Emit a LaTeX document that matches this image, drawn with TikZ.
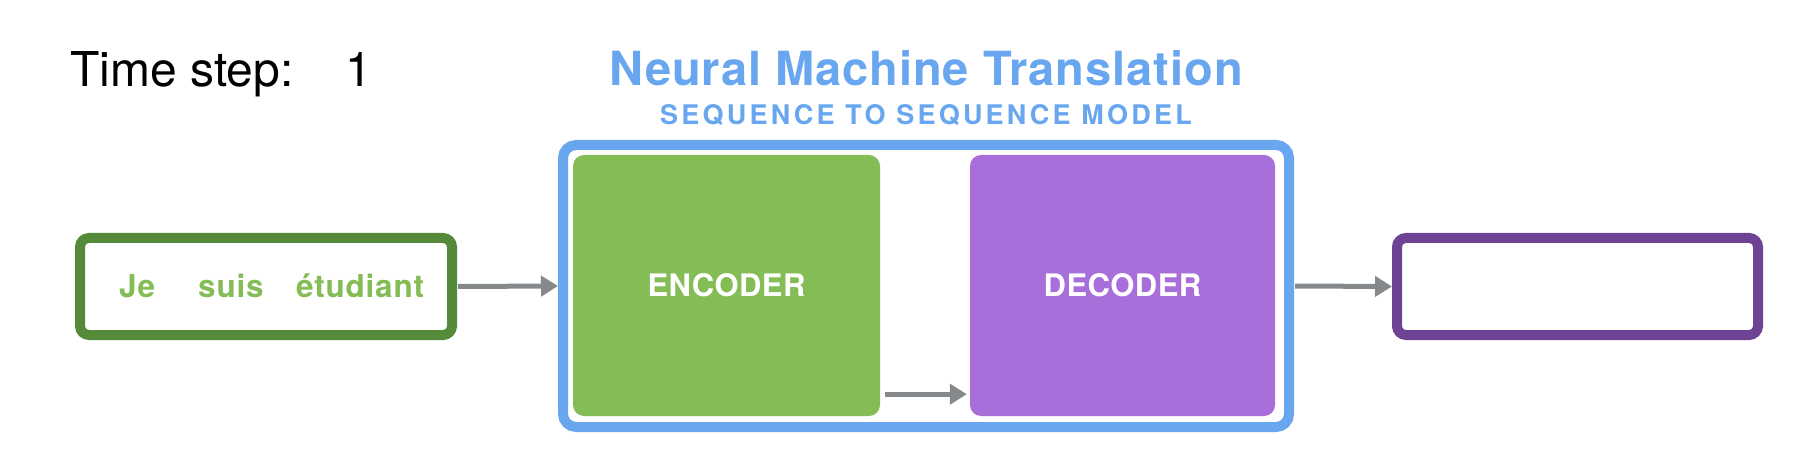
\documentclass[tikz,border=0pt]{standalone}
\usepackage{fontspec}
\setmainfont{TeX Gyre Heros}
\usetikzlibrary{arrows.meta}
\definecolor{wordgreen}{HTML}{84BC55}
\definecolor{darkgreen}{HTML}{568A3B}
\definecolor{encgreen}{HTML}{84BD55}
\definecolor{nmtblue}{HTML}{68A7EF}
\definecolor{decpurple}{HTML}{A86ED9}
\definecolor{darkpurple}{HTML}{6F4394}
\definecolor{arrowgray}{HTML}{86898C}
\tikzset{
  every node/.style={inner sep=0pt},
  framebox/.style={draw, line width=10pt, rounded corners=9pt, fill=white},
  blockbox/.style={fill, rounded corners=11pt, text=white, font=\addfontfeature{LetterSpace=1.5}\bfseries\fontsize{31}{31}\selectfont},
  wordtext/.style={anchor=base west, text=wordgreen, font=\addfontfeature{LetterSpace=2.5}\bfseries\fontsize{31.5}{31.5}\selectfont},
  flowarrow/.style={draw=arrowgray, line width=5pt, -{Triangle[length=17pt,width=20pt]}},
}
\begin{document}
\begin{tikzpicture}[x=1pt,y=-1pt]
\useasboundingbox[fill=white] (0,0) rectangle (1814,454);
% headings
\node[anchor=base west] (ts) at (70,87) {\fontsize{48}{48}\selectfont Time step:};
\node[anchor=base west] (tsn) at (345,87) {\fontsize{48}{48}\selectfont 1};
\node[anchor=base, text=nmtblue] (title) at (926,86)
  {\addfontfeature{LetterSpace=2}\bfseries\fontsize{47}{47}\selectfont Neural Machine Translation};
\node[anchor=base, text=nmtblue] (subtitle) at (926,125)
  {\addfontfeature{LetterSpace=12}\bfseries\fontsize{27}{27}\selectfont SEQUENCE TO SEQUENCE MODEL};
% boxes
\node[framebox, draw=darkgreen, minimum width=372pt, minimum height=97pt] (input) at (266,286.5) {};
\node[framebox, draw=nmtblue, rounded corners=13pt, minimum width=726pt, minimum height=282pt] (nmt) at (926,286) {};
\node[blockbox, fill=encgreen, minimum width=307pt, minimum height=261pt] (enc) at (726.5,285.5) {ENCODER};
\node[blockbox, fill=decpurple, minimum width=305pt, minimum height=261pt] (dec) at (1122.5,285.5) {DECODER};
\node[framebox, draw=darkpurple, minimum width=361pt, minimum height=97pt] (output) at (1577.5,286.5) {};
% words
\node[wordtext] (w1) at (119,298) {Je};
\node[wordtext] (w2) at (198,298) {suis};
\node[wordtext] (w3) at (296,298) {étudiant};
% arrows
\draw[flowarrow] ([xshift=1pt]input.east) -- (nmt.west);
\draw[flowarrow] ([xshift=5pt,yshift=22pt]enc.south east) -- ([xshift=-3pt,yshift=22pt]dec.south west);
\draw[flowarrow] ([xshift=1pt]nmt.east) -- (output.west);
\end{tikzpicture}
\end{document}
